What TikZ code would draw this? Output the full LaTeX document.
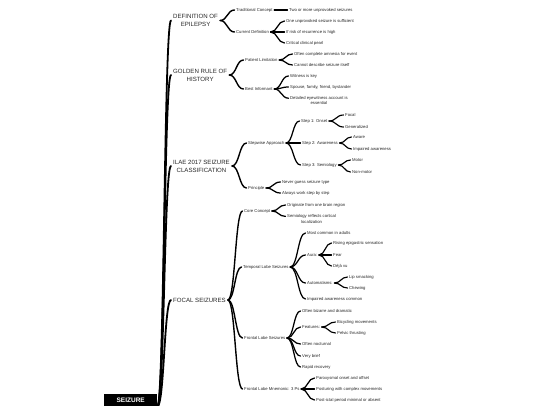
\documentclass[tikz,border=0pt]{standalone}
\usepackage{fontspec}
\setmainfont{Liberation Sans}
\usetikzlibrary{calc}
\newcommand\conn[3]{\draw[line width=#1,line cap=round] let \p1=#2, \p2=#3, \n1={(\x2-\x1)/2} in (\p1) .. controls +(\n1,0pt) and +(-\n1,0pt) .. (\p2);}
\tikzset{
  mainnode/.style={font=\fontsize{6.1}{8}\selectfont, text=black!85, align=center, inner xsep=2pt, inner ysep=1pt, anchor=west, xshift=-2pt},
  leafnode/.style={font=\fontsize{4.2}{5.2}\selectfont, text=black!85, inner xsep=1.5pt, inner ysep=0.5pt, anchor=west, xshift=-1.5pt},
  rootnode/.style={fill=black, text=white, font=\bfseries\fontsize{6.5}{7}\selectfont, minimum width=53pt, minimum height=12pt, inner sep=0pt, anchor=north west}
}
\begin{document}
\begin{tikzpicture}[x=1pt,y=-1pt]
\useasboundingbox[fill=white] (0,0) rectangle (540,405);
% root
\node[rootnode] (root) at (104,394) {SEIZURE};
% main topics
\node[mainnode] (def) at (173,20.5) {DEFINITION OF\\EPILEPSY};
\node[mainnode] (gold) at (173,75) {GOLDEN RULE OF\\HISTORY};
\node[mainnode] (ilae) at (173,166) {ILAE 2017 SEIZURE\\CLASSIFICATION};
\node[mainnode] (focal) at (173,300) {FOCAL SEIZURES};
% level 2
\node[leafnode] (trad) at (236,10) {Traditional Concept};
\node[leafnode] (curdef) at (236,32) {Current Definition};
\node[leafnode] (patlim) at (245,60) {Patient Limitation};
\node[leafnode] (bestinf) at (245,89) {Best Informant};
\node[leafnode] (stepw) at (248,143) {Stepwise Approach};
\node[leafnode] (princ) at (248,188) {Principle};
\node[leafnode] (core) at (244,211) {Core Concept};
\node[leafnode] (temp) at (243,267) {Temporal Lobe Seizures};
\node[leafnode] (front) at (244,338) {Frontal Lobe Seizures};
\node[leafnode] (mnem) at (244,389) {Frontal Lobe Mnemonic: 3 Ps};
% level 3
\node[leafnode] (two) at (289,10) {Two or more unprovoked seizures};
\node[leafnode] (one) at (286,21) {One unprovoked seizure is sufficient};
\node[leafnode] (ifrisk) at (286,32) {If risk of recurrence is high};
\node[leafnode] (crit) at (286,43) {Critical clinical pearl};
\node[leafnode] (amn) at (294,54) {Often complete amnesia for event};
\node[leafnode] (cannot) at (294,65) {Cannot describe seizure itself};
\node[leafnode] (wit) at (290,76) {Witness is key};
\node[leafnode] (spouse) at (290,87) {Spouse, family, friend, bystander};
\node[leafnode,align=center] (det) at (290,100.8) {Detailed eyewitness account is\\essential};
\node[leafnode] (s1) at (301,121) {Step 1: Onset};
\node[leafnode] (s2) at (302,143) {Step 2: Awareness};
\node[leafnode] (s3) at (302,165) {Step 3: Semiology};
\node[leafnode] (never) at (282,182) {Never guess seizure type};
\node[leafnode] (always) at (282,193) {Always work step by step};
\node[leafnode] (orig) at (287,205) {Originate from one brain region};
\node[leafnode,align=center] (semi) at (287,219) {Semiology reflects cortical\\localization};
\node[leafnode] (most) at (307,233) {Most common in adults};
\node[leafnode] (aura) at (307,255) {Aura:};
\node[leafnode] (autom) at (307,283) {Automatisms:};
\node[leafnode] (impcom) at (307,299) {Impaired awareness common};
\node[leafnode] (bizarre) at (302,311) {Often bizarre and dramatic};
\node[leafnode] (feat) at (302,327) {Features:};
\node[leafnode] (noct) at (302,344) {Often nocturnal};
\node[leafnode] (brief) at (302,356) {Very brief};
\node[leafnode] (rapid) at (302,367) {Rapid recovery};
\node[leafnode] (parox) at (316,378) {Paroxysmal onset and offset};
\node[leafnode] (post) at (316,389) {Posturing with complex movements};
\node[leafnode] (postict) at (316,400) {Post-ictal period minimal or absent};
% level 4
\node[leafnode] (focalo) at (345,115) {Focal};
\node[leafnode] (gen) at (345,127) {Generalized};
\node[leafnode] (aware) at (353,137) {Aware};
\node[leafnode] (impaw) at (353,149) {Impaired awareness};
\node[leafnode] (motor) at (352,160) {Motor};
\node[leafnode] (nonmotor) at (352,172) {Non-motor};
\node[leafnode] (rising) at (333,243) {Rising epigastric sensation};
\node[leafnode] (fear) at (333,255) {Fear};
\node[leafnode] (deja) at (333,266) {Déjà vu};
\node[leafnode] (lip) at (349,277) {Lip smacking};
\node[leafnode] (chew) at (349,288) {Chewing};
\node[leafnode] (bicy) at (337,322) {Bicycling movements};
\node[leafnode] (pelvic) at (337,333) {Pelvic thrusting};
% connectors: root
\conn{1.8pt}{(root.south east)}{(def.west)}
\conn{1.8pt}{(root.south east)}{(gold.west)}
\conn{1.8pt}{(root.south east)}{(ilae.west)}
\conn{1.8pt}{(root.south east)}{(focal.west)}
% main -> level 2
\conn{1.4pt}{(def.east)}{(trad.west)}
\conn{1.4pt}{(def.east)}{(curdef.west)}
\conn{1.4pt}{(gold.east)}{(patlim.west)}
\conn{1.4pt}{(gold.east)}{(bestinf.west)}
\conn{1.4pt}{(ilae.east)}{(stepw.west)}
\conn{1.4pt}{(ilae.east)}{(princ.west)}
\conn{1.4pt}{(focal.east)}{(core.west)}
\conn{1.4pt}{(focal.east)}{(temp.west)}
\conn{1.4pt}{(focal.east)}{(front.west)}
\conn{1.4pt}{(focal.east)}{(mnem.west)}
% level 2 -> level 3
\conn{1.25pt}{(trad.east)}{(two.west)}
\conn{1.25pt}{(curdef.east)}{(one.west)}
\conn{1.25pt}{(curdef.east)}{(ifrisk.west)}
\conn{1.25pt}{(curdef.east)}{(crit.west)}
\conn{1.25pt}{(patlim.east)}{(amn.west)}
\conn{1.25pt}{(patlim.east)}{(cannot.west)}
\conn{1.25pt}{(bestinf.east)}{(wit.west)}
\conn{1.25pt}{(bestinf.east)}{(spouse.west)}
\conn{1.25pt}{(bestinf.east)}{($(det.west)+(0,-2.6)$)}
\conn{1.25pt}{(stepw.east)}{(s1.west)}
\conn{1.25pt}{(stepw.east)}{(s2.west)}
\conn{1.25pt}{(stepw.east)}{(s3.west)}
\conn{1.25pt}{(princ.east)}{(never.west)}
\conn{1.25pt}{(princ.east)}{(always.west)}
\conn{1.25pt}{(core.east)}{(orig.west)}
\conn{1.25pt}{(core.east)}{($(semi.west)+(0,-2.6)$)}
\conn{1.25pt}{(temp.east)}{(most.west)}
\conn{1.25pt}{(temp.east)}{(aura.west)}
\conn{1.25pt}{(temp.east)}{(autom.west)}
\conn{1.25pt}{(temp.east)}{(impcom.west)}
\conn{1.25pt}{(front.east)}{(bizarre.west)}
\conn{1.25pt}{(front.east)}{(feat.west)}
\conn{1.25pt}{(front.east)}{(noct.west)}
\conn{1.25pt}{(front.east)}{(brief.west)}
\conn{1.25pt}{(front.east)}{(rapid.west)}
\conn{1.25pt}{(mnem.east)}{(parox.west)}
\conn{1.25pt}{(mnem.east)}{(post.west)}
\conn{1.25pt}{(mnem.east)}{(postict.west)}
% level 3 -> level 4
\conn{1.15pt}{(s1.east)}{(focalo.west)}
\conn{1.15pt}{(s1.east)}{(gen.west)}
\conn{1.15pt}{(s2.east)}{(aware.west)}
\conn{1.15pt}{(s2.east)}{(impaw.west)}
\conn{1.15pt}{(s3.east)}{(motor.west)}
\conn{1.15pt}{(s3.east)}{(nonmotor.west)}
\conn{1.15pt}{(aura.east)}{(rising.west)}
\conn{1.15pt}{(aura.east)}{(fear.west)}
\conn{1.15pt}{(aura.east)}{(deja.west)}
\conn{1.15pt}{(autom.east)}{(lip.west)}
\conn{1.15pt}{(autom.east)}{(chew.west)}
\conn{1.15pt}{(feat.east)}{(bicy.west)}
\conn{1.15pt}{(feat.east)}{(pelvic.west)}
\end{tikzpicture}
\end{document}
